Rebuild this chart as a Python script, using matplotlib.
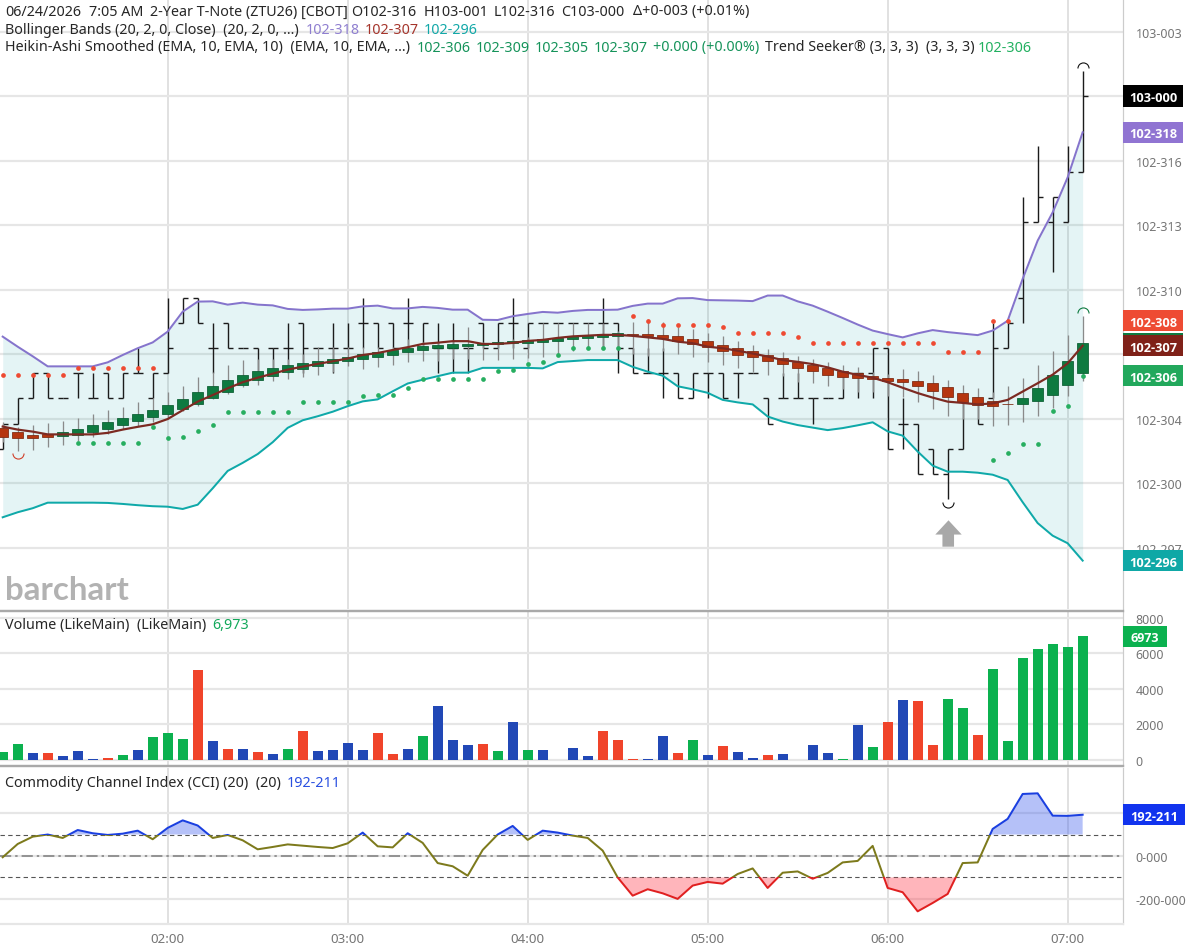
#!/usr/bin/env python3
"""2-Year T-Note intraday chart: 5 minute bars with Bollinger Bands, Heikin-Ashi
Smoothed candles, Trend Seeker dots, a volume pane and a CCI pane.

Prices are kept in eighths of a 32nd below 103-000 (the contract's tick), so
one gridline step of 0.01 points is 2.56 units and the price axis is inverted.
"""
import matplotlib
matplotlib.use("Agg")
import matplotlib.pyplot as plt
import numpy as np
from matplotlib.collections import LineCollection
from matplotlib.patches import Rectangle
from matplotlib.path import Path

plt.rcParams["font.family"] = ["Noto Sans", "DejaVu Sans"]

W, H = 1188, 953
N_BARS = 73

# OHLC bars, whole ticks below 103-000
bar_open = [14, 13, 12, 11, 12, 11, 12, 11, 12, 11, 12, 11, 9, 8, 10, 9, 10, 10, 10, 10, 9, 10, 10, 10, 9, 9, 9,
            9, 10, 10, 10, 10, 9, 10, 9, 10, 9, 9, 9, 9, 9, 9, 10, 11, 11, 11, 12, 11, 11, 11, 11, 12, 12, 12,
            12, 12, 12, 11, 11, 10, 13, 13, 14, 15, 14, 12, 12, 10, 8, 5, 5, 5, 3]
bar_high = [13, 12, 11, 11, 12, 11, 11, 11, 11, 10, 11, 8, 8, 8, 9, 9, 10, 10, 10, 9, 9, 10, 9, 9, 8, 9, 9,
            8, 9, 9, 9, 10, 9, 9, 8, 9, 9, 9, 9, 9, 8, 9, 10, 10, 10, 11, 11, 11, 11, 11, 11, 12, 11, 11,
            12, 12, 11, 11, 10, 10, 12, 13, 14, 14, 12, 12, 9, 9, 4, 2, 4, 2, -1]
bar_low = [14, 13, 12, 12, 12, 12, 12, 12, 12, 11, 12, 11, 9, 9, 11, 10, 10, 11, 11, 11, 11, 10, 11, 10, 10, 10, 10,
           10, 10, 11, 11, 11, 10, 10, 10, 10, 9, 9, 9, 9, 10, 11, 11, 11, 12, 12, 12, 12, 12, 12, 11, 13, 12, 12,
           13, 12, 12, 12, 12, 14, 14, 15, 15, 16, 14, 13, 12, 10, 9, 5, 7, 5, 3]
bar_close = [13, 12, 11, 12, 12, 11, 12, 12, 11, 11, 11, 10, 8, 9, 10, 10, 10, 11, 10, 10, 10, 10, 10, 10, 9, 10, 10,
             9, 9, 10, 10, 10, 10, 9, 9, 9, 9, 9, 9, 9, 9, 10, 11, 11, 11, 12, 11, 11, 12, 11, 11, 13, 12, 12,
             12, 12, 11, 11, 10, 14, 13, 15, 15, 14, 12, 13, 10, 9, 5, 4, 4, 3, 0]

# Bollinger Bands (20, 2, 0, Close)
bb_upper = [9.55, 9.95, 10.33, 10.73, 10.73, 10.73, 10.73, 10.57, 10.28, 10.01, 9.78, 9.35, 8.56, 8.16, 8.15, 8.28,
            8.20, 8.28, 8.31, 8.45, 8.49, 8.47, 8.44, 8.44, 8.35, 8.32, 8.43, 8.43, 8.37, 8.41, 8.48, 8.48,
            8.88, 8.89, 8.74, 8.65, 8.57, 8.60, 8.53, 8.49, 8.49, 8.48, 8.33, 8.24, 8.24, 8.03, 8.02, 8.10,
            8.11, 8.12, 8.14, 7.92, 7.92, 8.15, 8.32, 8.56, 8.81, 9.07, 9.31, 9.45, 9.58, 9.42, 9.29, 9.37,
            9.43, 9.49, 9.31, 8.92, 7.26, 5.74, 4.62, 3.23, 1.44]
bb_middle = [13.12, 13.24, 13.32, 13.43, 13.43, 13.43, 13.43, 13.37, 13.24, 13.13, 13.03, 12.82, 12.47, 12.13, 11.87,
             11.60, 11.36, 11.18, 11.02, 10.86, 10.74, 10.63, 10.53, 10.42, 10.28, 10.20, 10.08, 9.97, 9.84, 9.79,
             9.73, 9.73, 9.84, 9.84, 9.80, 9.72, 9.68, 9.60, 9.54, 9.51, 9.48, 9.48, 9.52, 9.58, 9.64, 9.75, 9.81,
             9.95, 10.01, 10.11, 10.22, 10.34, 10.48, 10.55, 10.64, 10.77, 10.94, 11.07, 11.18, 11.36, 11.58,
             11.79, 11.97, 12.13, 12.18, 12.24, 12.20, 12.06, 11.73, 11.40, 11.06, 10.61, 9.91]
bb_lower = [16.72, 16.52, 16.36, 16.14, 16.14, 16.14, 16.14, 16.15, 16.19, 16.24, 16.28, 16.30, 16.39, 16.22, 15.57,
            14.88, 14.56, 14.21, 13.74, 13.17, 12.87, 12.71, 12.53, 12.31, 12.12, 12.04, 11.72, 11.41, 11.26,
            11.12, 10.98, 10.98, 10.79, 10.79, 10.79, 10.79, 10.81, 10.56, 10.52, 10.48, 10.48, 10.48, 10.75,
            10.94, 11.10, 11.52, 11.64, 11.78, 12.06, 12.16, 12.24, 12.72, 12.92, 13.06, 13.16, 13.26, 13.18,
            13.07, 12.95, 13.31, 13.48, 14.11, 14.67, 14.91, 14.91, 14.95, 15.03, 15.24, 16.12, 16.95, 17.45,
            17.75, 18.44]

# Heikin-Ashi Smoothed candles
ha_top = [13.19, 13.35, 13.45, 13.41, 13.33, 13.20, 13.06, 12.92, 12.76, 12.61, 12.45, 12.28, 12.02, 11.75, 11.50,
          11.27, 11.07, 10.93, 10.79, 10.69, 10.60, 10.50, 10.42, 10.36, 10.25, 10.17, 10.08, 10.00, 9.93, 9.87,
          9.84, 9.83, 9.80, 9.78, 9.74, 9.70, 9.64, 9.60, 9.54, 9.50, 9.46, 9.42, 9.44, 9.44, 9.48, 9.54, 9.63,
          9.74, 9.87, 10.00, 10.13, 10.28, 10.40, 10.54, 10.66, 10.79, 10.91, 10.99, 11.11, 11.18, 11.23, 11.30,
          11.40, 11.56, 11.77, 11.95, 12.10, 12.21, 12.00, 11.59, 11.09, 10.50, 9.82]
ha_bottom = [13.52, 13.59, 13.56, 13.52, 13.48, 13.44, 13.32, 13.20, 13.06, 12.91, 12.75, 12.61, 12.43, 12.24, 11.98,
             11.75, 11.48, 11.28, 11.10, 10.95, 10.82, 10.70, 10.61, 10.52, 10.44, 10.34, 10.26, 10.17, 10.09, 10.01,
             9.99, 9.92, 9.88, 9.85, 9.82, 9.79, 9.75, 9.71, 9.66, 9.62, 9.56, 9.51, 9.48, 9.51, 9.59, 9.72, 9.85,
             9.97, 10.13, 10.26, 10.37, 10.52, 10.65, 10.79, 10.91, 11.06, 11.14, 11.20, 11.24, 11.31, 11.36, 11.52,
             11.71, 11.95, 12.14, 12.25, 12.32, 12.24, 12.22, 12.12, 11.85, 11.47, 10.98]
ha_high = [12.95, 13.15, 13.05, 12.98, 12.88, 12.78, 12.62, 12.46, 12.33, 12.16, 12.00, 11.76, 11.50, 11.16, 10.97,
           10.66, 10.46, 10.44, 10.44, 10.44, 10.24, 9.97, 9.97, 9.97, 9.97, 9.97, 9.97, 9.64, 9.78, 9.78,
           9.71, 9.15, 9.78, 9.75, 9.64, 9.58, 9.02, 9.02, 9.02, 9.02, 9.02, 9.31, 8.96, 8.85, 8.98, 9.18, 9.25,
           9.41, 9.54, 9.73, 9.87, 10.04, 10.17, 10.31, 10.44, 10.57, 10.66, 10.77, 10.94, 11.03, 10.83, 10.90,
           11.07, 11.27, 11.46, 11.58, 11.76, 11.50, 11.19, 10.68, 10.11, 9.49, 8.72]
ha_low = [13.74, 14.07, 14.03, 13.94, 13.85, 13.70, 13.55, 13.41, 13.21, 13.08, 12.95, 12.82, 12.49, 12.29, 12.02,
          11.83, 11.56, 11.47, 11.30, 11.23, 11.16, 11.06, 10.97, 10.73, 10.83, 10.77, 10.67, 10.57, 10.53, 10.50,
          10.44, 10.44, 10.48, 10.46, 10.44, 10.41, 10.37, 10.30, 10.11, 10.04, 10.04, 9.97, 10.24, 10.30, 10.11,
          10.24, 10.37, 10.54, 10.66, 10.81, 10.97, 11.07, 11.10, 11.36, 11.40, 11.50, 11.63, 11.76, 11.76, 11.89,
          11.96, 12.16, 12.42, 12.69, 12.82, 12.82, 13.11, 13.06, 12.92, 12.69, 12.39, 11.89, 11.30]
ha_side = "d" * 4 + "u" * 38 + "d" * 26 + "u" * 5

# Trend Seeker dots, sell side above price and buy side below
seek_sell_idx = list(range(0, 11)) + list(range(42, 68))
seek_sell = [11.09, 11.09, 11.09, 11.09, 11.09, 10.81, 10.81, 10.81, 10.81, 10.81, 10.81,
             8.74, 8.92, 9.07, 9.07, 9.07, 9.07, 9.18, 9.41, 9.41, 9.41, 9.41, 9.58,
             9.80, 9.80, 9.80, 9.80, 9.80, 9.80, 9.80, 9.80, 9.80, 10.16, 10.16, 10.16, 8.92, 8.92]
seek_buy_idx = list(range(5, 42)) + list(range(66, 73))
seek_buy = [13.77, 13.77, 13.77, 13.77, 13.77, 13.12, 13.58, 13.52, 13.29, 13.06, 12.54, 12.54, 12.54, 12.54, 12.54,
            12.13, 12.13, 12.13, 12.13, 11.90, 11.87, 11.85, 11.60, 11.22, 11.22, 11.22, 11.22, 11.22, 10.90, 10.86,
            10.63, 10.56, 10.26, 10.00, 10.00, 10.00, 10.00, 14.43, 14.15, 13.80, 13.80, 12.51, 12.32, 11.10]

volume = [430, 898, 393, 374, 224, 486, 75, 112, 280, 542, 1309, 1533, 1159, 5068, 1085, 617, 636, 467, 318, 617,
          1627, 505, 561, 935, 561, 1515, 337, 598, 1365, 3067, 1103, 823, 898, 505, 2113, 561, 561, 0, 673, 224,
          1646, 1141, 37, 37, 1328, 393, 1122, 280, 785, 449, 131, 280, 318, 0, 860, 374, 75, 1963, 729, 2132,
          3385, 3329, 842, 3422, 2917, 1384, 5105, 1066, 5741, 6265, 6508, 6358, 6973]
volume_side = ("ggbrbbbrgb" "gggrbrbrbg" "rbbbbrrbgb" "bbrgbgbbbb" "rrrbbrgbrb" "brbbbbgbgr" "brrggrgggg" "ggg")

cci = [-6, 56, 90, 100, 84, 121, 106, 98, 104, 118, 78, 131, 166, 142, 84, 98, 73, 31, 42, 54, 48, 42, 37, 59, 109,
       45, 40, 106, 61, -33, -48, -92, 28, 100, 140, 75, 118, 109, 95, 84, 25, -100, -185, -155, -174, -200, -138,
       -121, -129, -84, -58, -149, -78, -72, -106, -79, -30, -23, 47, -149, -169, -258, -219, -177, -33, -30, 126,
       173, 289, 292, 188, 187, 192.211]

price_ticks = [-2.56, 0, 2.56, 5.12, 7.68, 10.24, 12.80, 15.36, 17.92]
# 103-000 and 102-307 sit behind their value boxes
price_tick_labels = ["103-003", "", "102-316", "102-313", "102-310", "", "102-304", "102-300", "102-297"]
volume_ticks = [0, 2000, 4000, 6000, 8000]
cci_ticks = [-200, 0, 200]
cci_tick_labels = ["-200-000", "0-000", ""]
time_ticks = [11, 23, 35, 47, 59, 71]
time_labels = ["02:00", "03:00", "04:00", "05:00", "06:00", "07:00"]

GREY_TEXT = "#757575"
DARK_TEXT = "#262626"
GRID = "#e6e6e6"
VGRID = "#d8d8d8"
SEP = "#a9a9a9"
UP_GREEN = "#0e7a40"
DOWN_RED = "#b5350f"
VOL_COLORS = {"g": "#0bb14f", "r": "#f0442a", "b": "#2148b6"}
PX = 0.72  # points per pixel at 100 dpi


def pane(top, bottom):
    ax = fig.add_axes([0, 1 - bottom / H, 1123 / W, (bottom - top) / H])
    ax.set_xlim(-0.18, 74.69)
    ax.set_axisbelow(True)
    ax.yaxis.tick_right()
    ax.set_xticks(time_ticks)
    ax.set_xticklabels([])
    ax.grid(axis="x", color=VGRID, linewidth=1.5 * PX)
    ax.grid(axis="y", color=GRID, linewidth=2.2 * PX)
    ax.tick_params(axis="x", length=0, labelsize=9.6, labelcolor=GREY_TEXT)
    ax.tick_params(axis="y", length=0, labelsize=9.0, labelcolor=GREY_TEXT, pad=9)
    for side in ("left", "bottom", "top"):
        ax.spines[side].set_visible(False)
    ax.spines["right"].set_color("#cccccc")
    ax.spines["right"].set_linewidth(1.2 * PX)
    return ax


def flag(ax, value, text, color, height, width=60, size=9.2):
    # value box on the right hand axis, positioned from the series value
    trans = ax.get_yaxis_transform()
    ax_w = ax.get_position().width * W
    ax.add_patch(Rectangle((1.0, value - height / 2), width / ax_w, height, transform=trans,
                           facecolor=color, edgecolor="none", clip_on=False, zorder=10))
    if text:
        ax.text(1.0 + (width / 2) / ax_w, value, text, transform=trans, color="white", fontsize=size,
                fontfamily="Open Sans", fontweight="bold", ha="center", va="center_baseline",
                clip_on=False, zorder=11)


def text_run(y, runs):
    # one header line: each run starts at its own x pixel
    for x, s, c in runs:
        fig.text(x / W, 1 - y / H, s, color=c, fontsize=10.3, ha="left", va="center", zorder=20)


fig = plt.figure(figsize=(W / 100, H / 100), dpi=100, facecolor="white")
x = np.arange(N_BARS)

# price pane
ax = pane(0, 610)
ax.set_ylim(20.36, -3.85)
ax.set_yticks(price_ticks)
ax.set_yticklabels(price_tick_labels)
ax.fill_between(x, bb_upper, bb_lower, color="#1aa3a8", alpha=0.115, linewidth=0, zorder=1)

segs = []
for i in range(N_BARS):
    segs.append([(i, bar_high[i]), (i, bar_low[i])])
    segs.append([(i - 0.34, bar_open[i]), (i, bar_open[i])])
    segs.append([(i, bar_close[i]), (i + 0.34, bar_close[i])])
ax.add_collection(LineCollection(segs, colors="#1b1b1b", linewidths=1.4 * PX, zorder=3, capstyle="butt"))

ax.vlines(x, ha_high, ha_low, colors="#8a8a8a", linewidth=1.3 * PX, zorder=3.5)
for i in range(N_BARS):
    up = ha_side[i] == "u"
    ax.add_patch(Rectangle((i - 0.36, ha_top[i]), 0.72, ha_bottom[i] - ha_top[i],
                           facecolor=UP_GREEN if up else DOWN_RED,
                           edgecolor="#0b5e32" if up else "#7d2a12", linewidth=0.8 * PX, zorder=4))

ax.plot(x, bb_upper, color="#8574cc", linewidth=2.0 * PX, zorder=5, solid_joinstyle="round")
ax.plot(x, bb_lower, color="#0fa9a9", linewidth=2.0 * PX, zorder=5, solid_joinstyle="round")
ax.plot(x, bb_middle, color="#7c2a22", linewidth=2.2 * PX, zorder=5, solid_joinstyle="round")

ax.plot(seek_sell_idx, seek_sell, linestyle="none", marker="o", ms=3.4, mfc="#ee4a32", mec="none", zorder=6)
ax.plot(seek_buy_idx, seek_buy, linestyle="none", marker="o", ms=3.4, mfc="#27ae60", mec="none", zorder=6)

# swing high / low arcs, just outside the extreme they mark
arc_up, arc_down = Path.arc(0, 180), Path.arc(180, 360)
ax.plot(72, bar_high[72] - 0.1, marker=arc_up, ms=8, mfc="none", mec="#111111", mew=0.8, zorder=6)
ax.plot(63, bar_low[63] + 0.1, marker=arc_down, ms=8, mfc="none", mec="#111111", mew=0.8, zorder=6)
ax.plot(72, ha_high[72] - 0.1, marker=arc_up, ms=8, mfc="none", mec="#0e7a40", mew=0.8, zorder=6)
ax.plot(1, ha_low[1] + 0.1, marker=arc_down, ms=8, mfc="none", mec="#d0402a", mew=0.8, zorder=6)

up_arrow = Path([(-0.23, -0.5), (0.21, -0.5), (0.21, -0.04), (0.5, -0.04), (0, 0.5), (-0.5, -0.04), (-0.23, -0.04),
                 (-0.23, -0.5)], closed=True)
ax.plot(63, 17.34, marker=up_arrow, ms=19, color="#a8a8a8", mec="none", zorder=6)

ax.text(5 / 1123, 1 - 590 / 610, "barchart", transform=ax.transAxes, color="#b2b2b2", fontsize=23.8,
        fontfamily="Lato", fontweight="bold", ha="left", va="center", zorder=2)

flag(ax, bar_close[-1], "103-000", "#000000", 0.84)
flag(ax, bb_upper[-1], "102-318", "#9074d2", 0.84)
flag(ax, seek_sell[-1], "102-308", "#ee4b33", 0.84)
flag(ax, ha_top[-1], "", UP_GREEN, 0.84)
flag(ax, bb_middle[-1], "102-307", "#7f2118", 0.84)
flag(ax, seek_buy[-1], "102-306", "#22a85c", 0.84)
flag(ax, bb_lower[-1], "102-296", "#0fa8a6", 0.84)

# volume pane
vax = pane(612, 767)
vax.set_ylim(-338, 8394)
vax.set_yticks(volume_ticks)
vax.bar(x, volume, width=0.67, color=[VOL_COLORS[c] for c in volume_side], zorder=3)
for side in ("top", "bottom"):
    vax.spines[side].set_visible(True)
    vax.spines[side].set_color(SEP)
    vax.spines[side].set_linewidth(2.4 * PX)
flag(vax, volume[-1], "6973", "#0bb14f", 1180, width=44, size=9.0)

# CCI pane
cax = pane(769, 925)
cax.set_ylim(-317, 410)
cax.set_yticks(cci_ticks)
cax.set_yticklabels(cci_tick_labels)
cax.set_xticklabels(time_labels)
cax.tick_params(axis="x", pad=6)
cax.spines["bottom"].set_visible(True)
cax.spines["bottom"].set_color(GRID)
cax.spines["bottom"].set_linewidth(2.2 * PX)
cax.axhline(100, color="#555555", linewidth=1.1 * PX, linestyle=(0, (4, 3)), zorder=2)
cax.axhline(-100, color="#555555", linewidth=1.1 * PX, linestyle=(0, (4, 3)), zorder=2)
cax.axhline(0, color="#808080", linewidth=1.6 * PX, linestyle=(0, (7, 2.5, 1.5, 2.5)), zorder=2)

cci_arr = np.array(cci, dtype=float)
cax.fill_between(x, cci_arr, 100, where=cci_arr >= 100, interpolate=True, color="#3355ee", alpha=0.36,
                 linewidth=0, zorder=3)
cax.fill_between(x, cci_arr, -100, where=cci_arr <= -100, interpolate=True, color="#ff3344", alpha=0.36,
                 linewidth=0, zorder=3)
# one line per zone, each clipped to its band so the colour changes at +/-100
for low, high, col in [(-100, 100, "#7d7a1c"), (100, 1000, "#1a3fe0"), (-1000, -100, "#e02020")]:
    line, = cax.plot(x, cci_arr, color=col, linewidth=2.0 * PX, zorder=4, solid_joinstyle="round")
    line.set_clip_path(Rectangle((-1, low), 80, high - low, transform=cax.transData))
flag(cax, cci[-1], "192-211", "#1133ee", 98, width=62)

text_run(12, [(5, "06/24/2026", DARK_TEXT), (89, "7:05 AM", DARK_TEXT),
              (150, "2-Year T-Note (ZTU26) [CBOT]", DARK_TEXT), (351, "O102-316", DARK_TEXT),
              (424, "H103-001", DARK_TEXT), (494, "L102-316", DARK_TEXT), (561, "C103-000", DARK_TEXT),
              (633, "\u0394+0-003 (+0.01%)", DARK_TEXT)])
text_run(30, [(5, "Bollinger Bands (20, 2, 0, Close)  (20, 2, 0, ...)", DARK_TEXT),
              (306, "102-318", "#8f7fd0"), (365, "102-307", "#a5352c"), (424, "102-296", "#12a8a8")])
text_run(48, [(5, "Heikin-Ashi Smoothed (EMA, 10, EMA, 10)  (EMA, 10, EMA, ...)", DARK_TEXT),
              (417, "102-306", "#15935a"), (476, "102-309", "#15935a"), (535, "102-305", "#15935a"),
              (594, "102-307", "#15935a"), (653, "+0.000 (+0.00%)", "#15935a"),
              (765, "Trend Seeker\u00ae (3, 3, 3)  (3, 3, 3)", DARK_TEXT), (978, "102-306", "#22b060")])
text_run(626, [(5, "Volume (LikeMain)  (LikeMain)", DARK_TEXT), (212, "6,973", "#12a85a")])
text_run(784, [(5, "Commodity Channel Index (CCI) (20)  (20)", DARK_TEXT), (287, "192-211", "#2a50e0")])

fig.savefig("out.png", dpi=100)
